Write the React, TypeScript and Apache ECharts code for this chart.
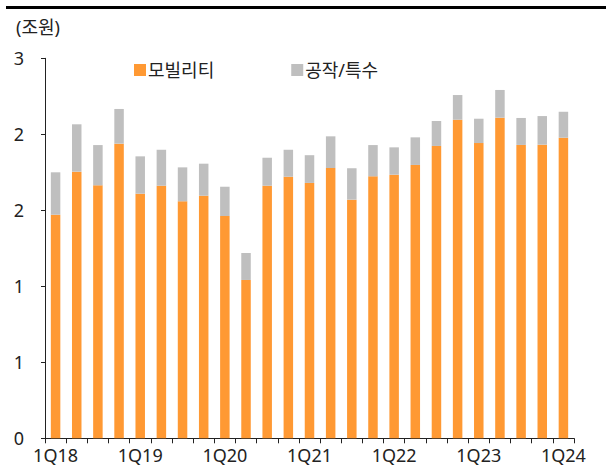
import React, { useEffect, useRef } from "react";
import * as echarts from "echarts";

const categories = [
  "1Q18", "2Q18", "3Q18", "4Q18",
  "1Q19", "2Q19", "3Q19", "4Q19",
  "1Q20", "2Q20", "3Q20", "4Q20",
  "1Q21", "2Q21", "3Q21", "4Q21",
  "1Q22", "2Q22", "3Q22", "4Q22",
  "1Q23", "2Q23", "3Q23", "4Q23",
  "1Q24",
];

const mobility = [
  1.765, 2.105, 1.997, 2.326,
  1.931, 1.994, 1.871, 1.915,
  1.755, 1.25, 1.994, 2.065,
  2.016, 2.134, 1.884, 2.068,
  2.081, 2.158, 2.308, 2.515,
  2.331, 2.531, 2.316, 2.318,
  2.373,
];

const machineSpecial = [
  0.335, 0.374, 0.318, 0.274,
  0.295, 0.284, 0.268, 0.253,
  0.231, 0.213, 0.221, 0.213,
  0.219, 0.25, 0.248, 0.247,
  0.216, 0.218, 0.197, 0.195,
  0.192, 0.219, 0.213, 0.226,
  0.205,
];

const yTickLabels = ["0", "1", "1", "2", "2", "3"];
const seriesNames = ["모빌리티", "공작/특수"];
const unitLabel = "(조원)";

const FONT = "'Noto Sans', 'Noto Sans CJK KR', sans-serif";

export default function App() {
  const ref = useRef<HTMLDivElement>(null);
  useEffect(() => {
    if (!ref.current) return;
    const chart = echarts.init(ref.current, null, { renderer: "svg" });
    chart.setOption({
      animation: false,
      textStyle: { fontFamily: FONT },
      grid: { left: 45, right: 32, top: 58.3, bottom: 33.7, containLabel: false },
      legend: {
        left: 129,
        top: 56,
        itemWidth: 12,
        itemHeight: 12,
        itemGap: 77,
        icon: "rect",
        textStyle: { fontFamily: FONT, fontSize: 18, color: "#222", padding: [0, 0, 0, -3] },
        data: seriesNames,
      },
      graphic: [
        {
          type: "line",
          shape: { x1: 6, y1: 7.5, x2: 606, y2: 7.5 },
          style: { stroke: "#000", lineWidth: 3 },
        },
        {
          type: "text",
          left: 16,
          top: 18,
          style: { text: unitLabel, fontFamily: FONT, fontSize: 18, fill: "#222" },
        },
      ],
      xAxis: {
        type: "category",
        data: categories,
        boundaryGap: true,
        axisLine: { lineStyle: { color: "#222", width: 1 } },
        axisTick: { show: true, alignWithLabel: false, interval: 0, length: 5, lineStyle: { color: "#222" } },
        axisLabel: {
          interval: 3,
          fontFamily: FONT,
          fontSize: 18,
          color: "#222",
          margin: 8,
        },
      },
      yAxis: {
        type: "value",
        min: 0,
        max: 3,
        interval: 0.6,
        splitLine: { show: false },
        axisLine: { show: true, lineStyle: { color: "#222", width: 1 } },
        axisTick: { show: true, length: 4, lineStyle: { color: "#222" } },
        axisLabel: {
          fontFamily: FONT,
          fontSize: 18,
          color: "#222",
          margin: 26,
          align: "center",
          formatter: (v: number) => yTickLabels[Math.round(v / 0.6)] ?? "",
        },
      },
      series: [
        {
          name: seriesNames[0],
          type: "bar",
          stack: "total",
          data: mobility,
          barWidth: 9.5,
          itemStyle: { color: "#FF9933" },
        },
        {
          name: seriesNames[1],
          type: "bar",
          stack: "total",
          data: machineSpecial,
          barWidth: 9.5,
          itemStyle: { color: "#BFBFBF" },
        },
      ],
    });
    return () => chart.dispose();
  }, []);
  return (
    <div
      ref={ref}
      style={{ position: "absolute", left: 0, top: 0, width: 606, height: 472 }}
    />
  );
}
